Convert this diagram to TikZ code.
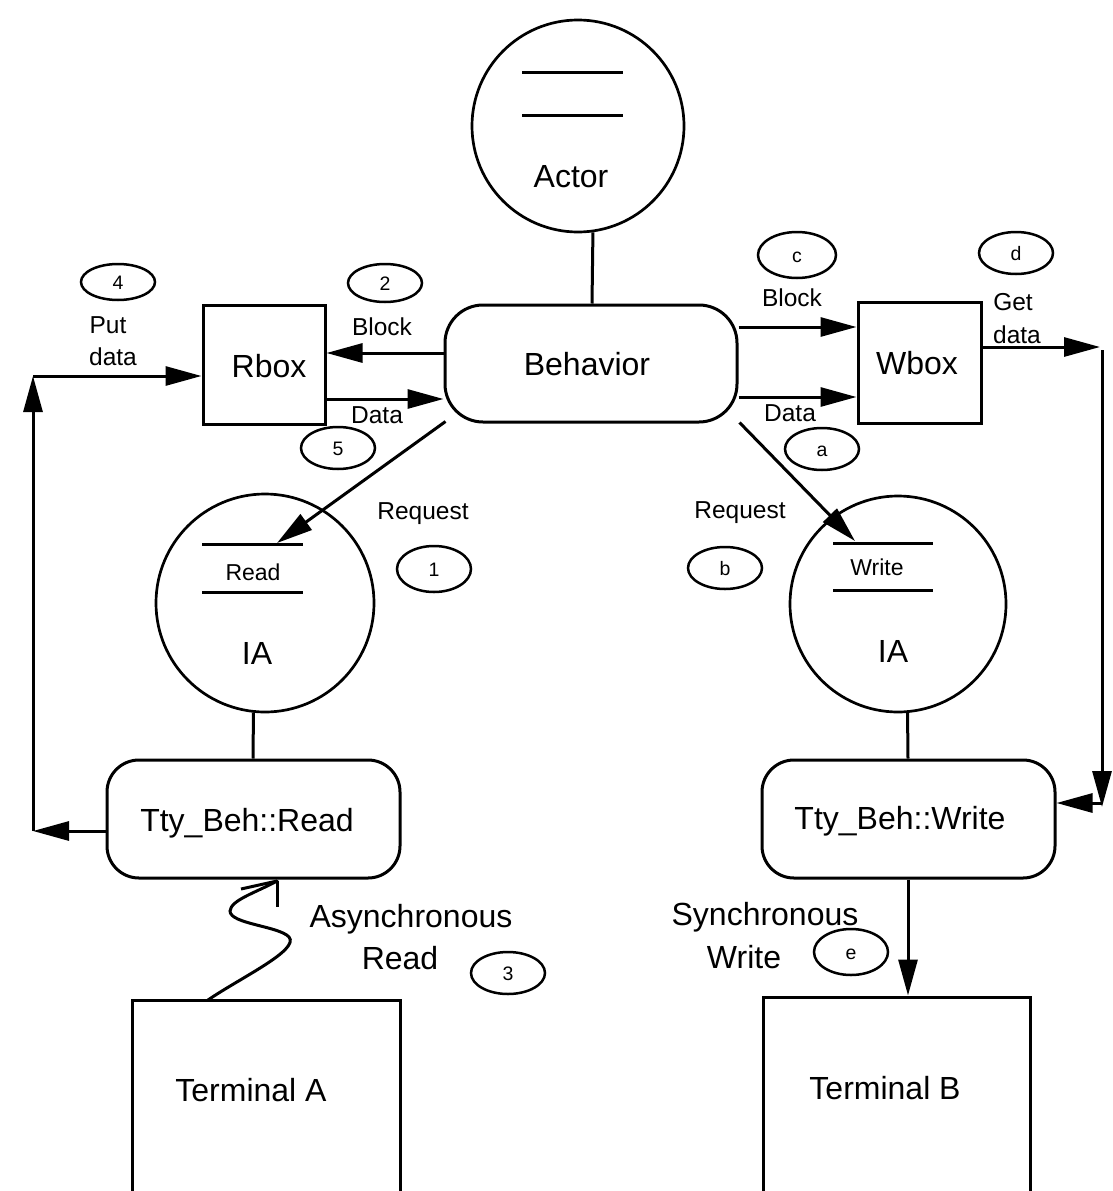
\documentclass[tikz,border=0pt]{standalone}
\usepackage{fontspec}
\setmainfont{Liberation Sans}
\usetikzlibrary{arrows.meta,shapes.geometric}
\begin{document}
\begin{tikzpicture}[x=1pt,y=-1pt,
  line width=3pt,
  arr/.style={-{Triangle[length=36pt,width=19pt]}},
  bigtxt/.style={font=\fontsize{32}{36}\selectfont, inner sep=0pt, text height=23pt, text depth=0pt},
  smalltxt/.style={font=\fontsize{24.5}{28}\selectfont, inner sep=0pt, text height=17.6pt, text depth=0pt},
  tinytxt/.style={font=\fontsize{23}{26}\selectfont, inner sep=0pt, text height=16.5pt, text depth=0pt},
  tag/.style={draw, ellipse, line width=2.5pt, minimum width=74pt, minimum height=42pt,
    inner sep=0pt, font=\fontsize{19.5}{22}\selectfont, text height=14pt, text depth=0pt},
  plainbox/.style={draw, rectangle, inner sep=0pt, bigtxt},
  roundbox/.style={draw, rectangle, rounded corners=#1, inner sep=0pt, bigtxt},
  actorcirc/.style={draw, circle, inner sep=0pt, line width=2.7pt}
]
\useasboundingbox (0,0) rectangle (1112,1191);
\clip (0,0) rectangle (1112,1191);

% ---- actor and behaviour ----
\node[actorcirc, minimum size=212pt] (actor) at (578,126) {};
\draw (522,72) -- (623,72);
\draw (522,115) -- (623,115);
\node[bigtxt] (actortxt) at (571,176) {Actor};

\node[roundbox=38pt, minimum width=292pt, minimum height=117pt] (beh) at (591,363.5) {};
\node[bigtxt] (behtxt) at (587,364) {Behavior};
\draw (actor.-82) -- (beh.north -| 592,0);

% ---- mailboxes ----
\node[plainbox, minimum width=122pt, minimum height=119pt] (rbox) at (264,364.5) {};
\node[bigtxt] (rboxtxt) at (269,366) {Rbox};
\node[plainbox, minimum width=123pt, minimum height=121pt] (wbox) at (919.5,362.5) {};
\node[bigtxt] (wboxtxt) at (917,363) {Wbox};

\draw[arr] (beh.west |- 0,353) -- (rbox.east |- 0,353);
\draw[arr] (rbox.east |- 0,399) -- (beh.west |- 0,399);
\draw[arr] (beh.east |- 0,327) -- (wbox.west |- 0,327);
\draw[arr] (beh.east |- 0,397) -- (wbox.west |- 0,397);

% ---- IA circles ----
\node[actorcirc, minimum size=218pt] (readia) at (265,603) {};
\draw (202,544) -- (303,544);
\draw (202,592) -- (303,592);
\node[tinytxt] (readtxt) at (253,572) {Read};
\node[bigtxt] (readiatxt) at (257,653) {IA};

\node[actorcirc, minimum size=216pt] (writeia) at (898,604) {};
\draw (833,543) -- (933,543);
\draw (833,590) -- (933,590);
\node[tinytxt] (writetxt) at (877,567) {Write};
\node[bigtxt] (writeiatxt) at (893,651) {IA};

\coordinate (rdin) at (277,543);
\coordinate (wrin) at (855,541);
\draw[arr] (beh.south west) ++(2,-2) coordinate (rqa) -- (rdin);
\draw[arr] (beh.south east) ++(1,-1) coordinate (rqb) -- (wrin);

% ---- tty behaviours ----
\node[roundbox=32pt, minimum width=293pt, minimum height=118pt] (ttyr) at (253.5,819) {};
\node[bigtxt] (ttyrtxt) at (247,820) {Tty\_Beh::Read};
\node[roundbox=32pt, minimum width=293pt, minimum height=118pt] (ttyw) at (908.5,819) {};
\node[bigtxt] (ttywtxt) at (900,818) {Tty\_Beh::Write};
\draw (readia.-96) -- (ttyr.north -| 253,0);
\draw (writeia.-85) -- (ttyw.north -| 908,0);

% ---- terminals ----
\node[draw, rectangle, minimum width=268pt, minimum height=200pt] (terma) at (266,1100) {};
\node[bigtxt] (termatxt) at (251,1090) {Terminal A};
\node[draw, rectangle, minimum width=267pt, minimum height=206pt] (termb) at (896.5,1100) {};
\node[bigtxt] (termbtxt) at (885,1088) {Terminal B};

% ---- read side loop ----
\coordinate (lc1) at (33,831);
\coordinate (lc2) at (33,376);
\draw[arr] (ttyr.west |- lc1) -- (lc1);
\draw[arr] (lc1) -- (lc2);
\draw[arr] (lc2) -- (rbox.west |- lc2);

% ---- write side loop ----
\coordinate (rc0) at (1100,347);
\coordinate (rc1) at (1102,350);
\coordinate (rc2) at (1102,807);
\coordinate (rc3) at (1102,803);
\draw[arr] (wbox.east |- rc0) -- (rc0);
\draw[arr] (rc1) -- (rc2);
\draw[arr] (rc3) -- (ttyw.east |- rc3);

% ---- terminal links ----
\draw[arr] (ttyw.south -| 908,0) -- (termb.north -| 908,0);
\coordinate (sqa) at (208,1000);
\coordinate (sqtip) at (277,881);
% wavy asynchronous link with an open two-barb head
\draw[line cap=round] (sqa) .. controls (240,978) and (300,950) .. (289,937)
            .. controls (279,926) and (230,924) .. (230,911)
            .. controls (231,900) and (255,893) .. (sqtip);
\draw (sqtip) -- (277,907);
\draw (sqtip) -- (241,889);

% ---- labels ----
\node[smalltxt] (lput) at (108,325) {Put};
\node[smalltxt] (lputd) at (113,357) {data};
\node[smalltxt] (lblk1) at (382,327) {Block};
\node[smalltxt] (ldat1) at (377,415) {Data};
\node[smalltxt] (lblk2) at (792,298) {Block};
\node[smalltxt] (lget) at (1013,302) {Get};
\node[smalltxt] (lgetd) at (1017,335) {data};
\node[smalltxt] (ldat2) at (790,413) {Data};
\node[smalltxt] (lreq1) at (423,511) {Request};
\node[smalltxt] (lreq2) at (740,510) {Request};
\node[bigtxt] (lasy) at (411,916) {Asynchronous};
\node[bigtxt] (lasyr) at (400,958) {Read};
\node[bigtxt] (lsyn) at (765,914) {Synchronous};
\node[bigtxt] (lsynw) at (744,957) {Write};

% ---- step tags ----
\node[tag, minimum height=36pt] (t4) at (118,282) {4};
\node[tag, minimum height=38pt] (t2) at (385,283) {2};
\node[tag] (t5) at (338,448) {5};
\node[tag, minimum height=46pt, minimum width=78pt] (tc) at (797,255) {c};
\node[tag] (td) at (1016,253) {d};
\node[tag] (ta) at (822,449) {a};
\node[tag, minimum height=46pt] (t1) at (434,569) {1};
\node[tag] (tb) at (725,568) {b};
\node[tag] (t3) at (508,973) {3};
\node[tag, minimum height=46pt] (te) at (851,952) {e};
\end{tikzpicture}
\end{document}
